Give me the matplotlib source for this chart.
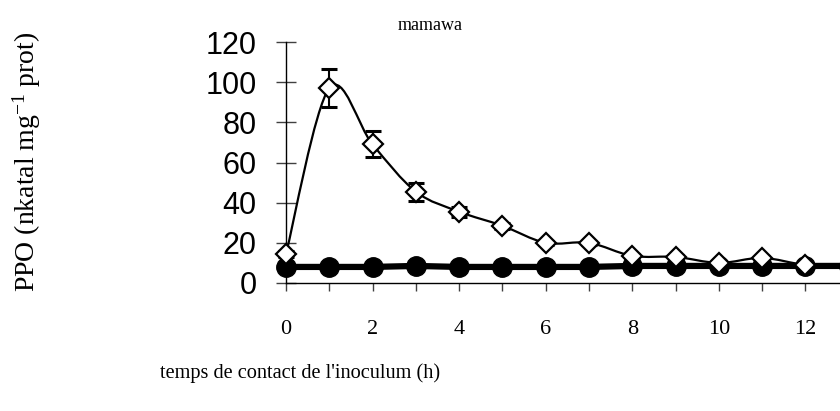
import matplotlib
matplotlib.use("Agg")
import matplotlib.pyplot as plt
import numpy as np
from matplotlib.path import Path
from matplotlib.patches import PathPatch

plt.rcParams['mathtext.fontset'] = 'custom'
plt.rcParams['mathtext.rm'] = 'Liberation Serif'
plt.rcParams['mathtext.it'] = 'Liberation Serif:italic'

hours = [0, 1, 2, 3, 4, 5, 6, 7, 8, 9, 10, 11, 12, 13]
ppo_diamond = [14.5, 97, 69, 45.5, 35.5, 28.5, 20, 20, 13.5, 13, 10, 12.5, 9, 8.5]
err_diamond = [1.5, 9.5, 6.5, 4.5, 2.5, 1.5, 1.0, 1.0, 1.0, 1.0, 1.0, 1.0, 0.5, 0.5]
ppo_circle = [8, 8, 8, 8.5, 8, 8, 8, 8, 8.5, 8.5, 8.5, 8.5, 8.5, 8.5]

title = "mamawa"
xlabel = "temps de contact de l'inoculum (h)"
ylabel = "PPO (nkatal mg$^{\\mathrm{-1}}$ prot)"
yticks = [0, 20, 40, 60, 80, 100, 120]
xticks = list(range(0, 14))

fig = plt.figure(figsize=(8.4, 4.11), dpi=100)
ax = fig.add_axes([286/840, 128/411, 606/840, 241/411])
ax.set_xlim(0, 14)
ax.set_ylim(0, 120)

for s in ['top', 'right']:
    ax.spines[s].set_visible(False)
ax.spines['left'].set_linewidth(1.0)
ax.spines['bottom'].set_linewidth(1.0)

# smoothed line (Excel-like bezier) through diamond series
x = np.array(hours, dtype=float)
y = np.array(ppo_diamond, dtype=float)
verts = [(x[0], y[0])]
codes = [Path.MOVETO]
n = len(x)
for i in range(n - 1):
    p0 = np.array([x[max(i-1, 0)], y[max(i-1, 0)]])
    p1 = np.array([x[i], y[i]])
    p2 = np.array([x[i+1], y[i+1]])
    p3 = np.array([x[min(i+2, n-1)], y[min(i+2, n-1)]])
    c1 = p1 + (p2 - p0) / 6.0
    c2 = p2 - (p3 - p1) / 6.0
    verts += [tuple(c1), tuple(c2), tuple(p2)]
    codes += [Path.CURVE4] * 3
patch = PathPatch(Path(verts, codes), facecolor='none', edgecolor='black', lw=1.6, zorder=3, clip_on=False)
ax.add_patch(patch)

ax.plot(hours, ppo_circle, color='black', lw=4.5, marker='o', ms=14, mfc='black', mec='black', zorder=4, clip_on=False)
ax.errorbar(hours, ppo_diamond, yerr=err_diamond, fmt='none', ecolor='black', elinewidth=1.5, capsize=6, capthick=2.2, zorder=5, clip_on=False)
ax.plot(hours, ppo_diamond, ls='none', marker='D', ms=10.5, mfc='white', mec='black', mew=1.6, zorder=6, clip_on=False)

ax.set_yticks(yticks)
ax.set_yticklabels([str(v) for v in yticks], fontfamily='Liberation Sans', fontsize=22)
ax.tick_params(axis='y', direction='inout', length=14, width=1, color='#404040', pad=14)
ax.set_xticks(xticks)
ax.set_xticklabels([str(v) if v % 2 == 0 else '' for v in xticks], fontfamily='Liberation Serif', fontsize=16)
ax.tick_params(axis='x', direction='out', length=6, width=1, color='#404040', pad=21)

fig.text(430/840, 1 - 25/411, title, ha='center', va='center', fontfamily='Liberation Serif', fontsize=13)
fig.text(300/840, 1 - 373/411, xlabel, ha='center', va='center', fontfamily='Liberation Serif', fontsize=14.6)
fig.text(27/840, 1 - 162/411, ylabel, ha='center', va='center', rotation=90, fontfamily='Liberation Serif', fontsize=20)

fig.savefig('out.png', dpi=100)
